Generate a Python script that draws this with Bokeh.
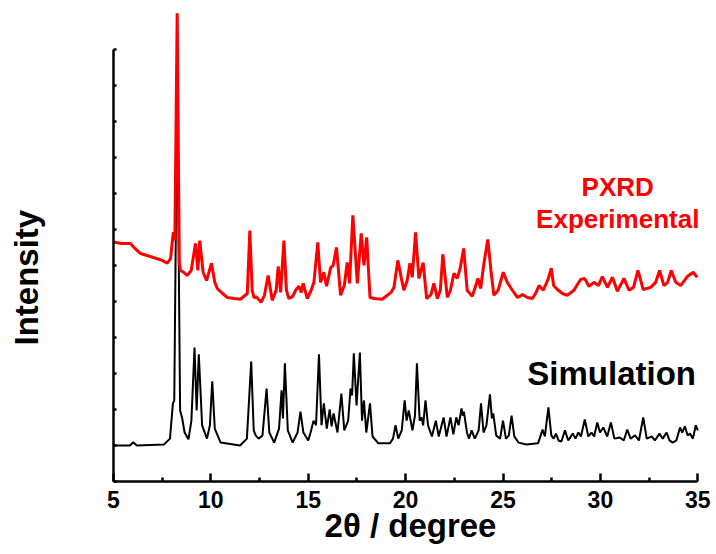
from bokeh.plotting import figure
from bokeh.models import Range1d, FixedTicker, Label, Title
from bokeh.embed import file_html
from bokeh.resources import INLINE

# Simulated pattern (offset baseline at 1.0)
sim_x = [5.0, 5.85, 6.01, 6.2, 7.6, 7.9, 8.05, 8.12, 8.27, 8.42, 8.53, 8.65, 8.85, 9.0, 9.16, 9.27, 9.38, 9.55,
         9.8, 9.95, 10.07, 10.2, 10.5, 11.5, 11.85, 12.07, 12.2, 12.3, 12.45, 12.65, 12.86, 13.0, 13.25, 13.5,
         13.63, 13.7, 13.8, 13.95, 14.2, 14.45, 14.6, 14.75, 15.0, 15.15, 15.27, 15.4, 15.55, 15.68, 15.8, 15.95,
         16.1, 16.2, 16.3, 16.5, 16.7, 16.85, 17.05, 17.17, 17.25, 17.34, 17.48, 17.65, 17.76, 17.86, 17.98, 18.17,
         18.3, 18.6, 19.2, 19.35, 19.48, 19.62, 19.8, 19.95, 20.05, 20.16, 20.35, 20.48, 20.58, 20.72, 20.82, 20.9,
         21.02, 21.15, 21.35, 21.55, 21.7, 21.95, 22.1, 22.3, 22.45, 22.6, 22.72, 22.87, 22.93, 22.99, 23.15, 23.25,
         23.39, 23.55, 23.75, 23.87, 24.0, 24.15, 24.33, 24.43, 24.5, 24.65, 24.85, 25.0, 25.15, 25.3, 25.44, 25.58,
         25.8, 26.2, 26.8, 27.03, 27.15, 27.33, 27.48, 27.6, 27.72, 27.85, 28.0, 28.18, 28.35, 28.58, 28.72, 28.87,
         29.0, 29.2, 29.38, 29.55, 29.68, 29.84, 29.98, 30.15, 30.35, 30.54, 30.72, 31.0, 31.2, 31.38, 31.55, 31.78,
         31.98, 32.2, 32.38, 32.63, 32.8, 33.03, 33.2, 33.4, 33.55, 33.71, 33.9, 34.09, 34.2, 34.34, 34.48, 34.6,
         34.75, 34.9, 35.0]
sim_y = [1.00, 1.00, 1.09, 1.00, 1.03, 1.19, 2.17, 2.25, 11.0, 1.97, 1.75, 1.36, 1.17, 1.69, 3.72, 1.97, 3.53, 1.56,
         1.19, 1.56, 2.78, 1.47, 1.08, 1.00, 1.19, 3.33, 1.42, 1.28, 1.19, 1.28, 2.58, 1.36, 1.08, 1.47,
         2.53, 1.75, 3.28, 1.42, 1.08, 1.36, 1.94, 1.36, 1.14, 1.42, 1.69, 1.56, 3.53, 1.56, 2.17, 1.47,
         2.00, 1.53, 1.89, 1.36, 2.44, 1.42, 1.69, 2.58, 2.39, 3.56, 2.11, 3.58, 1.69, 2.25, 1.36, 2.17,
         1.25, 1.06, 1.06, 1.19, 1.56, 1.19, 1.42, 2.25, 1.69, 1.97, 1.42, 1.83, 3.28, 1.69, 1.78, 1.56,
         2.25, 1.56, 1.25, 1.69, 1.25, 1.78, 1.25, 1.78, 1.31, 1.78, 1.56, 2.03, 1.83, 1.94, 1.36, 1.19,
         1.42, 1.19, 1.42, 2.17, 1.36, 1.56, 2.42, 1.75, 1.89, 1.28, 1.19, 1.69, 1.19, 1.28, 1.83, 1.25,
         1.08, 1.03, 1.06, 1.44, 1.25, 2.06, 1.28, 1.19, 1.33, 1.14, 1.11, 1.42, 1.14, 1.33, 1.19, 1.36,
         1.25, 1.72, 1.25, 1.36, 1.25, 1.64, 1.36, 1.50, 1.25, 1.64, 1.19, 1.22, 1.14, 1.44, 1.19, 1.28,
         1.14, 1.78, 1.19, 1.25, 1.14, 1.33, 1.19, 1.36, 1.14, 1.08, 1.14, 1.50, 1.36, 1.53, 1.28, 1.33,
         1.19, 1.56, 1.42]

# Experimental pattern (offset)
exp_x = [5.0, 5.4, 5.87, 6.1, 6.39, 7.05, 7.5, 7.76, 7.93, 8.07, 8.15, 8.27, 8.38, 8.44, 8.6, 8.78, 8.99, 9.21,
         9.33, 9.43, 9.6, 9.78, 10.03, 10.2, 10.33, 10.6, 10.84, 11.2, 11.52, 11.87, 12.0, 12.12, 12.21, 12.34,
         12.58, 12.75, 12.94, 13.15, 13.35, 13.46, 13.58, 13.75, 13.88, 14.0, 14.2, 14.35, 14.52, 14.64, 14.74,
         14.95, 15.15, 15.29, 15.49, 15.63, 15.8, 15.94, 16.15, 16.28, 16.45, 16.66, 16.85, 17.0, 17.12, 17.29,
         17.52, 17.72, 17.86, 18.0, 18.17, 18.4, 18.8, 19.06, 19.25, 19.4, 19.6, 19.78, 19.91, 20.08, 20.22,
         20.34, 20.51, 20.68, 20.9, 21.08, 21.3, 21.45, 21.63, 21.78, 21.91, 22.14, 22.3, 22.48, 22.65, 22.8,
         22.98, 23.16, 23.42, 23.6, 23.71, 23.85, 24.02, 24.22, 24.38, 24.53, 24.75, 25.01, 25.22, 25.48, 25.74,
         26.0, 26.25, 26.51, 26.7, 26.85, 27.07, 27.31, 27.48, 27.6, 27.79, 28.05, 28.3, 28.64, 28.98, 29.19,
         29.41, 29.67, 29.9, 30.1, 30.36, 30.62, 30.87, 31.21, 31.47, 31.7, 31.93, 32.2, 32.58, 32.84, 33.04,
         33.26, 33.45, 33.64, 33.87, 34.12, 34.46, 34.77, 34.97]
exp_y = [6.65, 6.61, 6.61, 6.47, 6.33, 6.22, 6.14, 6.06, 6.19, 6.92, 6.69, 13.0, 6.08, 5.86, 5.81, 5.72, 5.86, 6.61,
         5.86, 6.69, 5.81, 5.58, 6.06, 5.53, 5.36, 5.22, 5.11, 5.08, 5.06, 5.22, 6.97, 5.31, 5.11, 5.12,
         4.98, 5.17, 5.72, 5.03, 5.31, 5.97, 5.25, 6.69, 5.31, 5.08, 5.14, 5.31, 5.42, 5.25, 5.50,
         5.08, 5.31, 5.53, 6.64, 5.53, 5.81, 5.42, 5.94, 6.00, 6.50, 5.17, 5.44, 6.08, 5.50, 7.39,
         5.50, 6.89, 6.00, 6.78, 5.11, 5.08, 5.06, 5.17, 5.25, 5.39, 6.14, 5.64, 5.31, 5.58, 6.06,
         5.67, 6.92, 5.64, 6.08, 5.08, 5.19, 5.50, 5.08, 5.31, 6.31, 5.11, 5.31, 5.78, 5.64, 5.92,
         6.47, 5.31, 5.14, 5.44, 5.64, 5.36, 6.06, 6.72, 5.86, 5.17, 5.31, 5.81, 5.53, 5.31, 5.11,
         5.19, 5.11, 5.08, 5.25, 5.44, 5.31, 5.61, 5.92, 5.44, 5.33, 5.22, 5.17, 5.31, 5.61, 5.64,
         5.42, 5.53, 5.44, 5.69, 5.39, 5.67, 5.28, 5.64, 5.31, 5.39, 5.86, 5.33, 5.39, 5.53, 5.86,
         5.44, 5.53, 5.86, 5.53, 5.44, 5.69, 5.81, 5.67]

x_ticks = [5, 10, 15, 20, 25, 30, 35]
y_ticks = list(range(0, 13))

FONT = "Liberation Sans"

p = figure(width=716, height=554, output_backend="svg", toolbar_location=None,
           x_range=Range1d(5, 35.5), y_range=Range1d(0, 13.3),
           min_border_left=113, min_border_right=9, min_border_top=2, min_border_bottom=73)
p.outline_line_color = None
p.grid.visible = False
p.background_fill_color = "white"
p.border_fill_color = "white"

p.line(sim_x, sim_y, line_color="black", line_width=2)
p.line(exp_x, exp_y, line_color="#ff0000", line_width=3)

xa = p.xaxis[0]
xa.bounds = (5, 35)
xa.ticker = FixedTicker(ticks=x_ticks, minor_ticks=[7.5, 12.5, 17.5, 22.5, 27.5, 32.5])
xa.axis_line_width = 2.5
xa.axis_line_color = "black"
xa.major_tick_line_width = 2.5
xa.major_tick_line_color = "black"
xa.minor_tick_line_width = 2.5
xa.minor_tick_line_color = "black"
xa.major_tick_in = 8
xa.major_tick_out = 0
xa.minor_tick_in = 4
xa.minor_tick_out = 0
xa.major_label_text_font = FONT
xa.major_label_text_font_style = "bold"
xa.major_label_text_font_size = "23px"
xa.major_label_text_color = "black"
xa.major_label_standoff = 9
xa.axis_label = "2θ / degree"
xa.axis_label_text_font = FONT
xa.axis_label_text_font_style = "bold"
xa.axis_label_text_font_size = "33px"
xa.axis_label_text_color = "black"
xa.axis_label_standoff = -4

ya = p.yaxis[0]
ya.bounds = (0, 12)
ya.ticker = FixedTicker(ticks=y_ticks, minor_ticks=[])
ya.major_label_overrides = {t: "" for t in y_ticks}
ya.axis_line_width = 2.5
ya.axis_line_color = "black"
ya.major_tick_line_width = 2.5
ya.major_tick_line_color = "black"
ya.major_tick_in = 3
ya.major_tick_out = 0
ya.minor_tick_in = 0
ya.minor_tick_out = 0
# blank axis label only reserves horizontal room for the side title
ya.axis_label = "\u00a0"
ya.axis_label_text_font_size = "33px"
ya.axis_label_standoff = 27

# y-axis title as a side title, shifted to centre on the drawn axis
p.add_layout(Title(text="Intensity", align="left", offset=136, standoff=4,
                   text_color="black", text_font=FONT, text_font_style="bold",
                   text_font_size="33px"), "left")

for txt, xx, yy, col, fs in [("PXRD", 30.89, 8.19, "#ff0000", "26px"),
                             ("Experimental", 30.89, 7.28, "#ff0000", "26px"),
                             ("Simulation", 30.58, 3.0, "black", "33px")]:
    p.add_layout(Label(x=xx, y=yy, text=txt, text_color=col, text_font=FONT,
                       text_font_style="bold", text_font_size=fs,
                       text_align="center", text_baseline="alphabetic"))

open("out.html", "w").write(file_html(p, INLINE))
